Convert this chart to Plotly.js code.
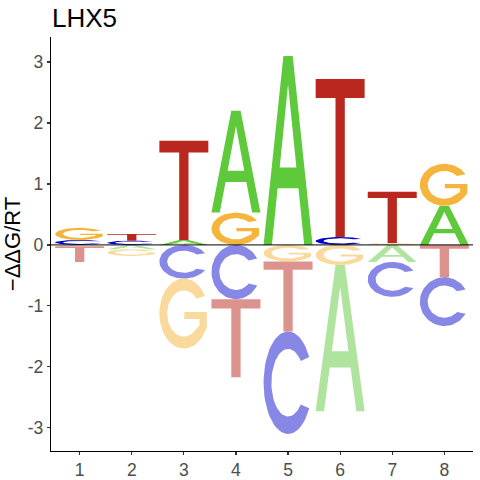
<!DOCTYPE html>
<html>
<head>
<meta charset="utf-8">
<script src="https://cdn.plot.ly/plotly-3.0.1.min.js"></script>
<style>html,body{margin:0;padding:0;background:#fff;}#chart{width:480px;height:480px;}</style>
</head>
<body>
<div id="chart"></div>
<script>
// ---- data ----
const positions = [1, 2, 3, 4, 5, 6, 7, 8];
const tickLabels = ['1', '2', '3', '4', '5', '6', '7', '8'];
const yTicks = [-3, -2, -1, 0, 1, 2, 3];
const valA = [-0.02, -0.07, 0.08, 1.67, 3.10, -2.40, -0.28, 0.64];
const valC = [0.08, 0.07, -0.55, -0.89, -1.68, 0.13, -0.57, -0.80];
const valG = [0.20, -0.11, -1.15, 0.53, -0.27, -0.33, 0.03, 0.69];
const valT = [-0.26, 0.11, 1.63, -1.28, -1.15, 2.59, 0.84, -0.53];
const letters = ['A', 'C', 'G', 'T'];
const colorsPos = {A: 'rgb(94,201,59)', C: 'rgb(0,0,200)', G: 'rgb(245,180,59)', T: 'rgb(185,39,30)'};
const colorsNeg = {A: 'rgba(94,201,59,0.5)', C: 'rgba(0,0,200,0.47)', G: 'rgba(245,180,59,0.5)', T: 'rgba(185,39,30,0.5)'};

// ---- glyph outlines in a unit box ----
function arc(cx, cy, rx, ry, a0, a1, n) {
  const pts = [];
  for (let i = 0; i <= n; i++) {
    const a = (a0 + (a1 - a0) * i / n) * Math.PI / 180;
    pts.push([cx + rx * Math.cos(a), cy + ry * Math.sin(a)]);
  }
  return pts;
}
function glyph(L) {
  if (L === 'T') {
    return [[0,1],[1,1],[1,0.88],[0.595,0.88],[0.595,0],[0.405,0],[0.405,0.88],[0,0.88]];
  }
  if (L === 'A') {
    const s = 0.39, b = 0.17, y0 = 0.30, y1 = 0.41;
    return [[0,0],[b,0],[b + s*y0, y0],[0.5, y0],[0.5, y1],[b + s*y1, y1],[0.5, 0.85],
            [1 - b - s*y1, y1],[0.5, y1],[0.5, y0],[1 - b - s*y0, y0],[1 - b, 0],[1,0],
            [0.595,1],[0.405,1]];
  }
  if (L === 'C') {
    return arc(0.5,0.5,0.5,0.5,30,330,60).concat(arc(0.5,0.5,0.34,0.33,320,40,60));
  }
  // G
  return arc(0.5,0.5,0.5,0.5,30,325,60)
    .concat([[0.97,0.30],[0.97,0.52],[0.51,0.52],[0.51,0.42],[0.82,0.42],[0.82,0.33]])
    .concat(arc(0.5,0.5,0.34,0.33,320,40,60));
}

const W = 0.94;
const vals = {A: valA, C: valC, G: valG, T: valT};
const traces = [];
positions.forEach((p, i) => {
  const items = letters.map(L => ({L, v: vals[L][i]}));
  const pos = items.filter(d => d.v > 0).sort((a, b) => a.v - b.v);
  const neg = items.filter(d => d.v < 0).sort((a, b) => b.v - a.v);
  function add(d, base, h, color) {
    const g = glyph(d.L);
    const xs = [], ys = [];
    g.forEach(([u, v]) => { xs.push(p - W / 2 + u * W); ys.push(base + v * h); });
    xs.push(xs[0]); ys.push(ys[0]);
    traces.push({x: xs, y: ys, type: 'scatter', mode: 'lines', fill: 'toself',
      fillcolor: color, line: {width: 0, color: color}, hoverinfo: 'skip', showlegend: false});
  }
  let acc = 0;
  pos.forEach(d => { add(d, acc, d.v, colorsPos[d.L]); acc += d.v; });
  acc = 0;
  neg.forEach(d => { add(d, acc + d.v, -d.v, colorsNeg[d.L]); acc += d.v; });
});

const font = 'Liberation Sans, Arial, sans-serif';
const axisCommon = {
  showline: true, linecolor: '#000', linewidth: 1.3, mirror: false,
  ticks: 'outside', ticklen: 3, tickwidth: 1.2, tickcolor: '#333',
  tickfont: {family: font, size: 17.5, color: '#4D4D4D'},
  showgrid: false, zeroline: false, fixedrange: true
};
const layout = {
  width: 480, height: 480,
  margin: {l: 51, r: 7, t: 37, b: 29},
  paper_bgcolor: '#fff', plot_bgcolor: '#fff',
  title: {text: 'LHX5', font: {family: font, size: 26, color: '#000'},
          xref: 'container', x: 52/480, xanchor: 'left', yref: 'container', y: 1 - 18/480, yanchor: 'middle'},
  xaxis: Object.assign({}, axisCommon, {range: [0.45, 8.55], tickmode: 'array', tickvals: positions, ticktext: tickLabels}),
  yaxis: Object.assign({}, axisCommon, {range: [-3.38, 3.41], tickmode: 'array', tickvals: yTicks,
          ticktext: yTicks.map(v => v < 0 ? '-' + Math.abs(v) : String(v)),
          title: {text: '\u2212\u0394\u0394G/RT', font: {family: font, size: 22, color: '#000'}, standoff: 6}}),
  shapes: [{type: 'line', xref: 'paper', x0: 0, x1: 1, yref: 'y', y0: 0, y1: 0, line: {color: '#000', width: 1}, layer: 'above'}]
};
Plotly.newPlot('chart', traces, layout, {displayModeBar: false, staticPlot: true});
</script>
</body>
</html>
